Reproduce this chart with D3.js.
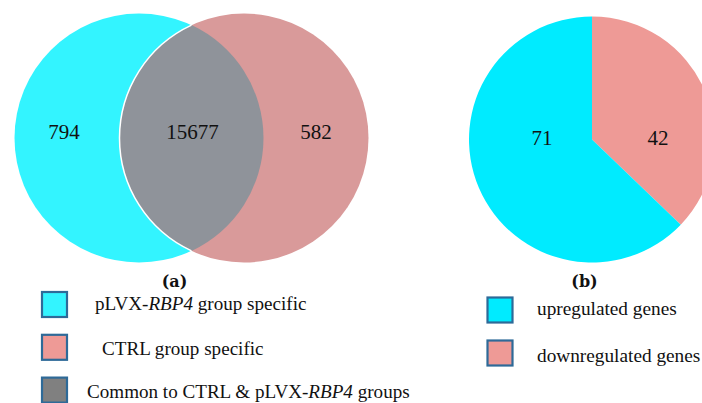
<!DOCTYPE html>
<html>
<head>
<meta charset="utf-8">
<script src="https://cdn.jsdelivr.net/npm/d3@7"></script>
<style>
  html, body { margin: 0; padding: 0; background: #fff; }
  svg { display: block; }
</style>
</head>
<body>
<svg id="chart" width="702" height="403"></svg>
<script>
// Venn diagram: gene counts per group
const vennSets = ["pLVX-RBP4 group specific", "CTRL group specific", "Common to CTRL & pLVX-RBP4 groups"];
const vennCounts = [794, 582, 15677];
const vennColors = ["#33F4FF", "#D99A9A", "#8F939A"];

// Pie chart: differentially expressed genes
const pieCategories = ["downregulated genes", "upregulated genes"];
const pieValues = [42, 71];
const pieColors = ["#EE9A96", "#00EBFF"];

const serif = "Liberation Serif";
const svg = d3.select("#chart");
const txt = (sel) => sel.style("font-family", serif).attr("fill", "#111");
const panelTag = (sel) => sel.style("font-family", "DejaVu Serif").attr("fill", "#111")
  .attr("font-size", 16).attr("font-weight", "bold").attr("text-anchor", "middle");

// ---- Venn (a) ----
const r = 124.5;
const vx = d3.scaleLinear().domain([0, 1]).range([139, 244]); // circle centres
const cy = 138;
const venn = svg.append("g");

venn.append("circle").attr("cx", vx(0)).attr("cy", cy).attr("r", r).attr("fill", vennColors[0]);
venn.append("circle").attr("cx", vx(1)).attr("cy", cy).attr("r", r).attr("fill", vennColors[1]);

// lens shaped overlap
const d = vx(1) - vx(0);
const hx = d / 2;
const hy = Math.sqrt(r * r - hx * hx);
const mx = vx(0) + hx;
const lens = `M${mx},${cy - hy} A${r},${r} 0 0,1 ${mx},${cy + hy} A${r},${r} 0 0,1 ${mx},${cy - hy} Z`;
venn.append("path").attr("d", lens).attr("fill", vennColors[2]);
// white edge of right circle across the overlap
venn.append("path")
  .attr("d", `M${mx},${cy - hy} A${r},${r} 0 0,0 ${mx},${cy + hy}`)
  .attr("fill", "none").attr("stroke", "#fff").attr("stroke-width", 1.5);

const vennLabelX = [vx(0) - 75, vx(1) + 72, mx + 1];
[0, 1, 2].forEach(i => {
  venn.append("text")
    .attr("x", vennLabelX[i]).attr("y", 139)
    .attr("text-anchor", "middle").attr("font-size", 21)
    .call(txt)
    .text(vennCounts[i]);
});

svg.append("text").attr("x", 174.5).attr("y", 286.5).call(panelTag).text("(a)");

// ---- Pie (b) ----
const pie = d3.pie().sort(null).value(v => v)(pieValues);
const arc = d3.arc().innerRadius(0).outerRadius(123);
const pg = svg.append("g").attr("transform", "translate(592,139.5)");
pg.selectAll("path").data(pie).join("path")
  .attr("d", arc).attr("fill", (p, i) => pieColors[i]);
const labelArc = d3.arc().innerRadius(68).outerRadius(68);
pg.selectAll("text").data(pie).join("text")
  .attr("transform", p => {
    const c = labelArc.centroid(p);
    return `translate(${c[0] < 0 ? -50 : 66},5.5)`;
  })
  .attr("text-anchor", "middle").attr("font-size", 21)
  .call(txt)
  .text(p => p.data);

svg.append("text").attr("x", 584.5).attr("y", 286.5).call(panelTag).text("(b)");

// ---- Legends ----
const boxStroke = "#2E6A98";
const legA = [
  { x: 95, parts: [["pLVX-", false], ["RBP4", true], [" group specific", false]] },
  { x: 102, parts: [["CTRL group specific", false]] },
  { x: 87, parts: [["Common to CTRL & pLVX-", false], ["RBP4", true], [" groups", false]] }
];
const legAColors = ["#33F4FF", "#EE9A96", "#808080"];
const legABase = [310, 355, 398];
legA.forEach((l, i) => {
  const y0 = 292 + i * 42.8;
  svg.append("rect").attr("x", 42).attr("y", y0).attr("width", 25).attr("height", 25)
    .attr("fill", legAColors[i]).attr("stroke", boxStroke).attr("stroke-width", 2.2);
  const t = svg.append("text").attr("x", l.x).attr("y", legABase[i]).attr("font-size", 19.1).call(txt);
  l.parts.forEach(p => t.append("tspan").attr("font-style", p[1] ? "italic" : "normal").text(p[0]));
});

const legBColors = ["#00EBFF", "#EE9A96"];
const legBBase = [315, 362];
["upregulated genes", "downregulated genes"].forEach((name, i) => {
  const y0 = 297.5 + i * 43;
  svg.append("rect").attr("x", 487.5).attr("y", y0).attr("width", 25).attr("height", 25)
    .attr("fill", legBColors[i]).attr("stroke", boxStroke).attr("stroke-width", 2.2);
  svg.append("text").attr("x", 537).attr("y", legBBase[i]).attr("font-size", 19.3).call(txt).text(name);
});
</script>
</body>
</html>
